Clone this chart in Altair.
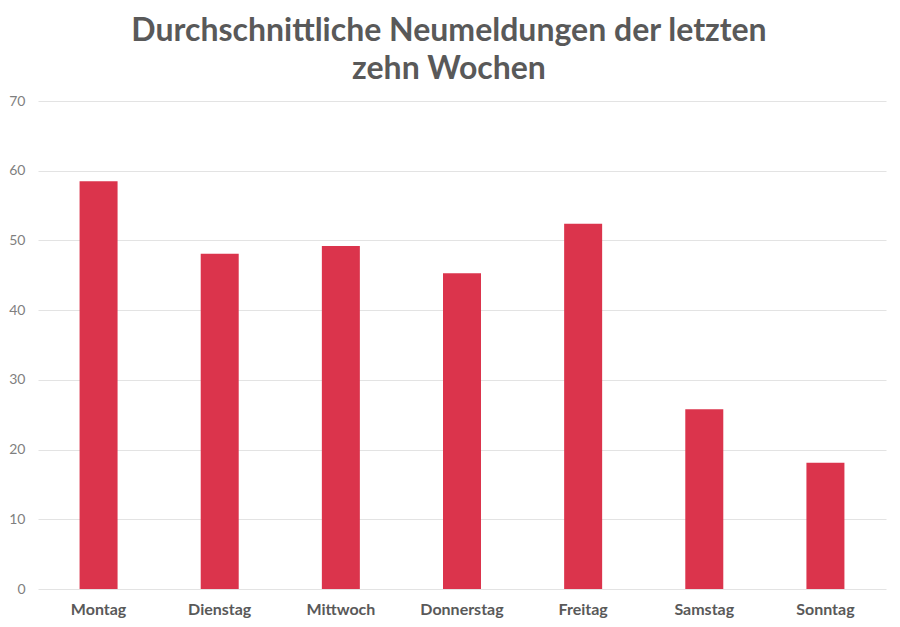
import altair as alt
import pandas as pd

days = ["Montag", "Dienstag", "Mittwoch", "Donnerstag", "Freitag", "Samstag", "Sonntag"]
values = [58.5, 48.1, 49.2, 45.3, 52.4, 25.8, 18.1]

df = pd.DataFrame({"Tag": days, "Wert": values})

chart = alt.Chart(df).mark_bar(size=38, color="#DB344C").encode(
    x=alt.X("Tag:N", sort=days, title=None,
            scale=alt.Scale(paddingInner=0, paddingOuter=0),
            axis=alt.Axis(labelAngle=0, labelFont="Lato", labelFontWeight="bold",
                          labelFontSize=16, labelColor="#595959", labelPadding=12,
                          ticks=False, domain=False, grid=False)),
    y=alt.Y("Wert:Q", title=None,
            scale=alt.Scale(domain=[0, 70]),
            axis=alt.Axis(values=[0, 10, 20, 30, 40, 50, 60, 70], labelFont="Lato",
                          labelFontSize=14, labelColor="#7F7F7F", labelPadding=13,
                          ticks=False, domain=False, gridColor="#E3E3E3", gridWidth=1)),
).properties(
    width=848,
    height=488,
    title=alt.TitleParams(
        text=["Durchschnittliche Neumeldungen der letzten", "zehn Wochen"],
        font="Lato", fontSize=32, fontWeight="bold", color="#595959",
        lineHeight=38, anchor="middle", dx=-13, offset=8,
    ),
    autosize=alt.AutoSizeParams(type="none"),
    padding={"left": 30, "top": 93, "right": 6, "bottom": 30},
).configure_view(stroke=None)

chart.save("out.html", embed_options={"renderer": "svg", "actions": False})
